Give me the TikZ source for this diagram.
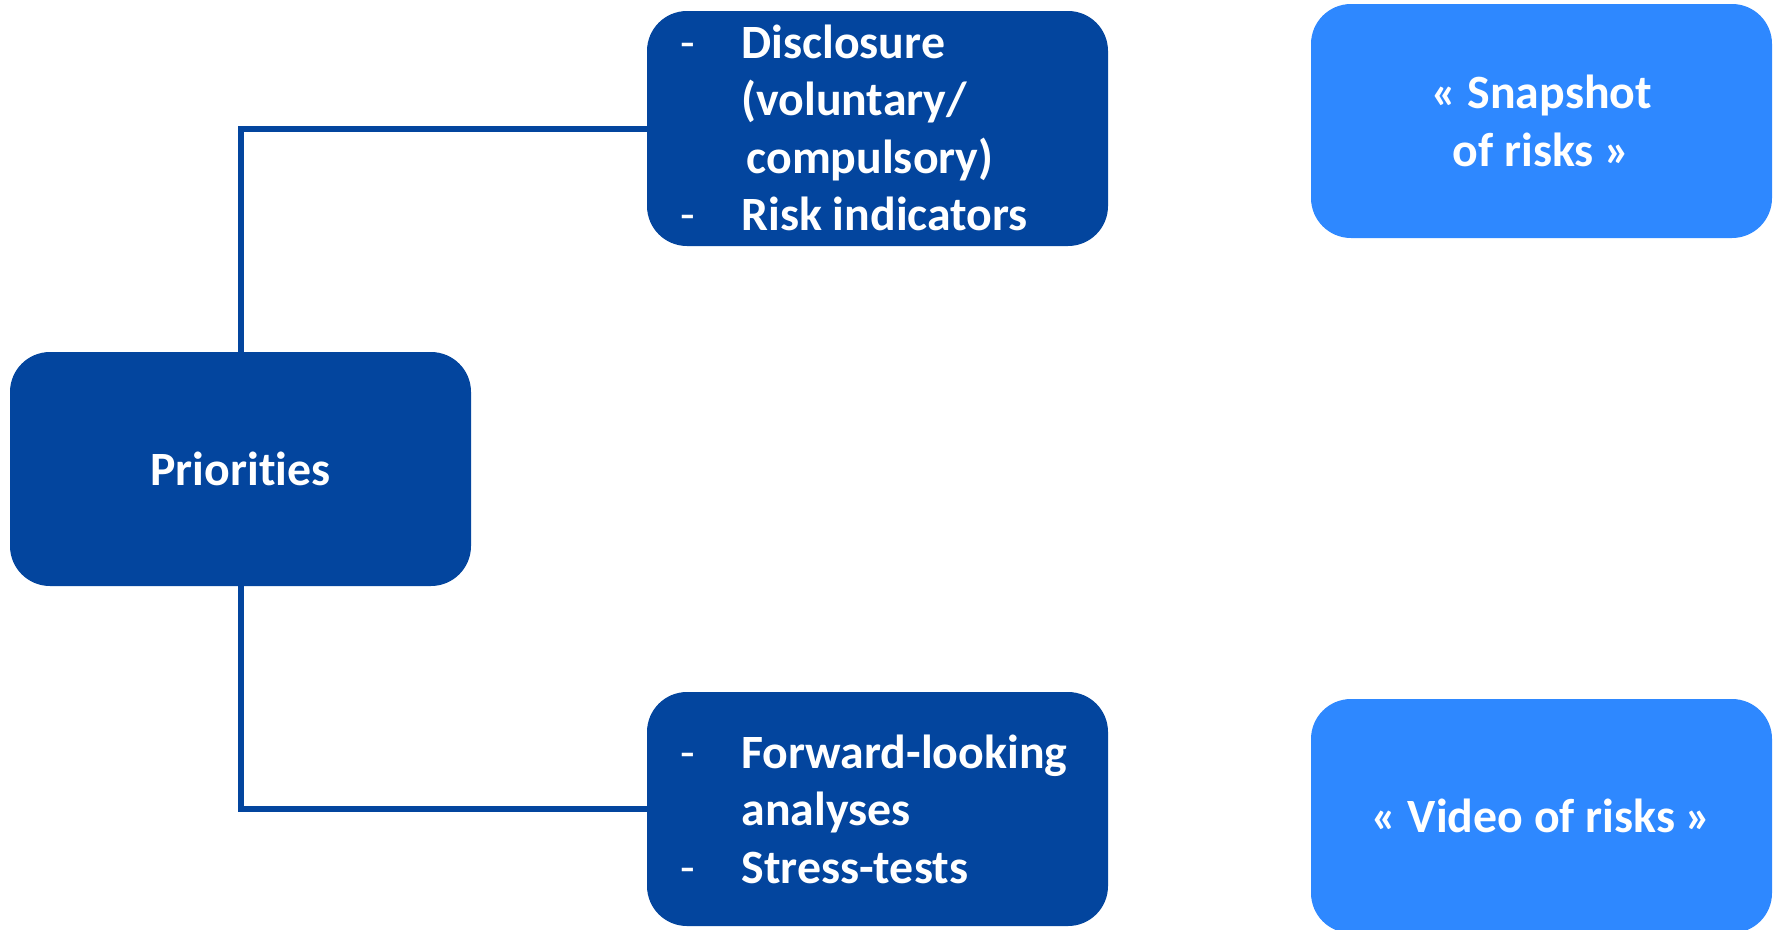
\documentclass[tikz,border=0pt]{standalone}
\usepackage{fontspec}
\setmainfont{Carlito}[Ligatures={NoCommon,NoRare}]
\newfontfamily\dashfont{Carlito}
\definecolor{darkbox}{RGB}{3,69,158}
\definecolor{lightbox}{RGB}{46,136,255}
\newcommand{\bfsz}{\fontsize{47.8pt}{57.5pt}\selectfont\bfseries}
\newcommand{\dashitem}{\makebox[61pt][l]{\mdseries\dashfont-}}
\newcommand{\noitem}{\hspace*{61pt}}
\tikzset{
  boxbase/.style={rounded corners=40pt, minimum width=461pt, minimum height=234pt,
    inner sep=0pt, outer sep=0pt, text=white, font=\bfsz, align=center},
  darkbx/.style={boxbase, fill=darkbox},
  lightbx/.style={boxbase, fill=lightbox},
  itemtext/.style={anchor=base west, inner sep=0pt, outer sep=0pt, text=white, font=\bfsz},
  conn/.style={draw=darkbox, line width=6pt}
}
\begin{document}
\begin{tikzpicture}[x=1pt,y=-1pt]
\useasboundingbox (0,0) rectangle (1777,929);
% boxes
\node[darkbx] (pri) at (240.5,469) {Priorities};
\node[darkbx, minimum height=235pt] (tm) at (877.5,128.5) {};
\node[darkbx] (bm) at (877.5,809) {};
\node[lightbx] (tr) at (1541.5,121) {« Snapshot\\of risks »};
\node[lightbx] (br) at (1541.5,816) {« Video of risks »};
% box texts
\node[itemtext] (tmtext) at (680.5,58) {\begin{tabular}[t]{@{}l@{}}
\dashitem Disclosure\\
\noitem (voluntary/\\
\noitem \hspace*{5pt}compulsory)\\
\dashitem Risk indicators
\end{tabular}};
\node[itemtext] (bmtext) at (680.5,768) {\begin{tabular}[t]{@{}l@{}}
\dashitem Forward-looking\\
\noitem analyses\\
\dashitem Stress-tests
\end{tabular}};
% connectors
\draw[conn] (pri.north) |- (tm.west);
\draw[conn] (pri.south) |- (bm.west);
\end{tikzpicture}
\end{document}
